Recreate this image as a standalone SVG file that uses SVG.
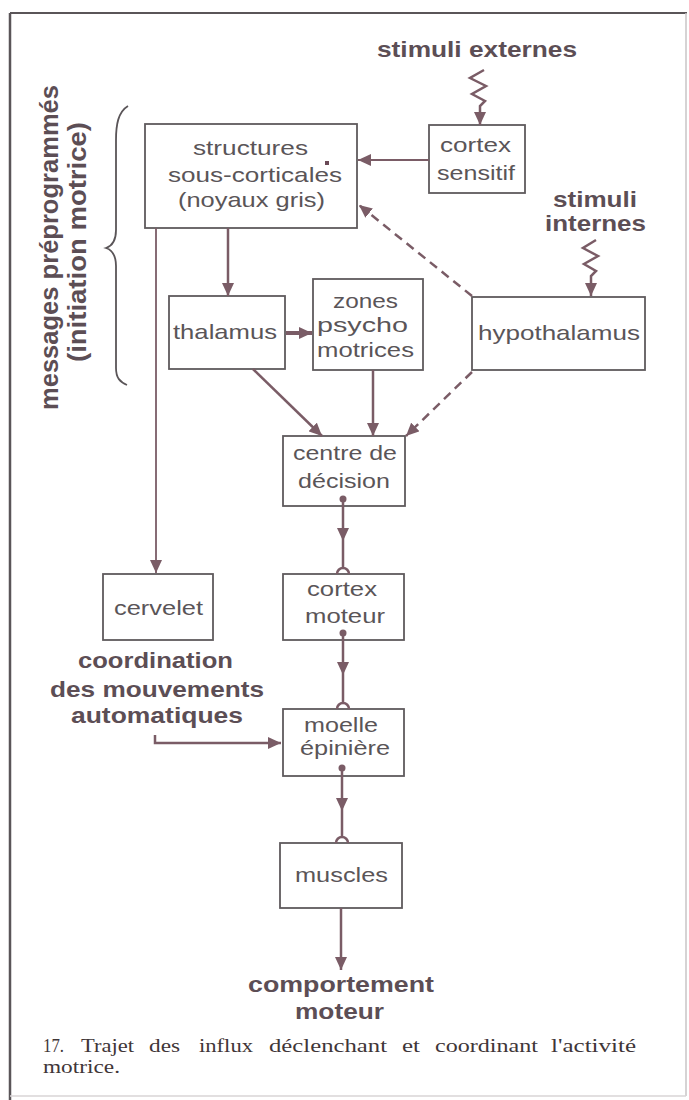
<svg xmlns="http://www.w3.org/2000/svg" width="689" height="1100" viewBox="0 0 689 1100">
<defs>
<style>
.box{fill:#fff;stroke:#5f5a5d;stroke-width:1.8}
.t{font-family:"Liberation Sans",Arial,sans-serif;font-size:21px;fill:#5a5558}
.b{font-family:"Liberation Sans",Arial,sans-serif;font-size:22px;font-weight:bold;fill:#5c4e55}
.rot{font-family:"Liberation Sans",Arial,sans-serif;font-size:25px;font-weight:bold;fill:#5c4e55}
.cap{font-family:"Liberation Serif","Times New Roman",serif;font-size:18px;fill:#3f3638}
.c{fill:none;stroke:#7a5c66;stroke-width:2.5}
.thin{stroke-width:1.8}
.d{stroke-dasharray:9 6}
.dot{fill:#7a5c66}
</style>
<marker id="ah" markerWidth="14" markerHeight="12" refX="13" refY="6" orient="auto" markerUnits="userSpaceOnUse"><path d="M0,0 L13,6 L0,12 z" fill="#7a5c66"/></marker>
</defs>
<rect width="689" height="1100" fill="#fff"/>
<g id="frame" fill="none">
<line x1="10" y1="13" x2="687" y2="13" stroke="#5a5558" stroke-width="2"/>
<line x1="10" y1="13" x2="10" y2="1100" stroke="#5a5558" stroke-width="2.5"/>
<line x1="686" y1="13" x2="686" y2="1096" stroke="#c8c4c6" stroke-width="1.5"/>
<line x1="10" y1="1096" x2="686" y2="1096" stroke="#d8d4d6" stroke-width="1.5"/>
</g>
<g id="bracket-label">
<path d="M128,106 C118,112 116,125 116,140 L116,230 C116,240 112,246 106,248 C112,250 116,256 116,266 L116,368 C116,378 120,382 127,385" fill="none" stroke="#5a5558" stroke-width="1.8"/>
<text class="rot" transform="translate(58,410) rotate(-90)" textLength="325" lengthAdjust="spacingAndGlyphs">messages préprogrammés</text>
<text class="rot" transform="translate(86,362) rotate(-90)" textLength="240" lengthAdjust="spacingAndGlyphs">(initiation motrice)</text>
</g>
<g id="stimuli-externes"><text class="b" x="377" y="57" textLength="200" lengthAdjust="spacingAndGlyphs">stimuli externes</text></g>
<g id="stimuli-internes"><text class="b" x="553" y="207" textLength="84" lengthAdjust="spacingAndGlyphs">stimuli</text><text class="b" x="545" y="231" textLength="101" lengthAdjust="spacingAndGlyphs">internes</text></g>
<g id="structures">
<rect class="box" x="145" y="124" width="212" height="104"/>
<text class="t" x="193" y="155" textLength="115" lengthAdjust="spacingAndGlyphs">structures</text>
<text class="t" x="168" y="182" textLength="174" lengthAdjust="spacingAndGlyphs">sous-corticales</text>
<text class="t" x="178" y="207" textLength="147" lengthAdjust="spacingAndGlyphs">(noyaux gris)</text>
<rect x="325" y="161" width="4" height="4" fill="#6a4a56"/>
</g>
<g id="cortex-sensitif">
<rect class="box" x="429" y="125" width="96" height="68"/>
<text class="t" x="440" y="152" textLength="71" lengthAdjust="spacingAndGlyphs">cortex</text>
<text class="t" x="437" y="180" textLength="78" lengthAdjust="spacingAndGlyphs">sensitif</text>
</g>
<g id="thalamus">
<rect class="box" x="169" y="296" width="116" height="73"/>
<text class="t" x="173" y="339" textLength="104" lengthAdjust="spacingAndGlyphs">thalamus</text>
</g>
<g id="zones">
<rect class="box" x="313" y="279" width="110" height="91"/>
<text class="t" x="333" y="308" textLength="65" lengthAdjust="spacingAndGlyphs">zones</text>
<text class="t" x="317" y="332" textLength="91" lengthAdjust="spacingAndGlyphs">psycho</text>
<text class="t" x="317" y="357" textLength="97" lengthAdjust="spacingAndGlyphs">motrices</text>
</g>
<g id="hypothalamus">
<rect class="box" x="472" y="297" width="173" height="73"/>
<text class="t" x="478" y="340" textLength="162" lengthAdjust="spacingAndGlyphs">hypothalamus</text>
</g>
<g id="centre">
<rect class="box" x="283" y="436" width="122" height="70"/>
<text class="t" x="293" y="460" textLength="104" lengthAdjust="spacingAndGlyphs">centre de</text>
<text class="t" x="298" y="488" textLength="92" lengthAdjust="spacingAndGlyphs">décision</text>
</g>
<g id="cervelet">
<rect class="box" x="103" y="574" width="110" height="66"/>
<text class="t" x="114" y="615" textLength="89" lengthAdjust="spacingAndGlyphs">cervelet</text>
</g>
<g id="cortex-moteur">
<rect class="box" x="283" y="574" width="121" height="66"/>
<text class="t" x="307" y="596" textLength="70" lengthAdjust="spacingAndGlyphs">cortex</text>
<text class="t" x="305" y="623" textLength="80" lengthAdjust="spacingAndGlyphs">moteur</text>
</g>
<g id="moelle">
<rect class="box" x="283" y="709" width="121" height="67"/>
<text class="t" x="304" y="732" textLength="74" lengthAdjust="spacingAndGlyphs">moelle</text>
<text class="t" x="300" y="755" textLength="90" lengthAdjust="spacingAndGlyphs">épinière</text>
</g>
<g id="muscles">
<rect class="box" x="280" y="843" width="122" height="65"/>
<text class="t" x="295" y="882" textLength="93" lengthAdjust="spacingAndGlyphs">muscles</text>
</g>
<g id="coordination">
<text class="b" x="78" y="668" textLength="155" lengthAdjust="spacingAndGlyphs">coordination</text>
<text class="b" x="50" y="697" textLength="214" lengthAdjust="spacingAndGlyphs">des mouvements</text>
<text class="b" x="71" y="723" textLength="172" lengthAdjust="spacingAndGlyphs">automatiques</text>
</g>
<g id="comportement">
<text class="b" x="248" y="992" textLength="186" lengthAdjust="spacingAndGlyphs">comportement</text>
<text class="b" x="295" y="1019" textLength="89" lengthAdjust="spacingAndGlyphs">moteur</text>
</g>
<g id="connectors">
<path class="c" d="M484,70 L470,78 L486,86 L472,94 L485,101 L480,106 L480,125" marker-end="url(#ah)"/>
<path class="c" d="M596,240 L583,248 L598,256 L584,264 L596,271 L591,276 L591,296" marker-end="url(#ah)"/>
<path class="c thin" d="M429,160 L358,160" marker-end="url(#ah)"/>
<path class="c d" d="M472,296 L359,205" marker-end="url(#ah)"/>
<path class="c" d="M228,228 L228,296" marker-end="url(#ah)"/>
<path class="c thin" d="M156,228 L156,573" marker-end="url(#ah)"/>
<path class="c" style="stroke-width:4" d="M286,333 L312,333" marker-end="url(#ah)"/>
<path class="c" d="M253,369 L322,436" marker-end="url(#ah)"/>
<path class="c" d="M373,370 L373,436" marker-end="url(#ah)"/>
<path class="c d" d="M472,372 L406,436" marker-end="url(#ah)"/>
<circle class="dot" cx="343" cy="499" r="3.5"/>
<path class="c" d="M343,499 L343,541" marker-end="url(#ah)"/>
<path class="c" d="M343,541 L343,568 M337,574 A6,6 0 0 1 349,574"/>
<circle class="dot" cx="343" cy="633" r="3.5"/>
<path class="c" d="M343,633 L343,675" marker-end="url(#ah)"/>
<path class="c" d="M343,675 L343,703 M337,709 A6,6 0 0 1 349,709"/>
<circle class="dot" cx="342" cy="768" r="3.5"/>
<path class="c" d="M342,768 L342,811" marker-end="url(#ah)"/>
<path class="c" d="M342,811 L342,837 M336,843 A6,6 0 0 1 348,843"/>
<path class="c" d="M341,908 L341,970" marker-end="url(#ah)"/>
<path class="c" d="M155,735 L155,743 L281,743" marker-end="url(#ah)"/>
</g>
<g id="caption">
<text class="cap" x="43" y="1052" textLength="21" lengthAdjust="spacingAndGlyphs">17.</text>
<text class="cap" x="81" y="1052" textLength="53" lengthAdjust="spacingAndGlyphs">Trajet</text>
<text class="cap" x="149" y="1052" textLength="31" lengthAdjust="spacingAndGlyphs">des</text>
<text class="cap" x="199" y="1052" textLength="54" lengthAdjust="spacingAndGlyphs">influx</text>
<text class="cap" x="269" y="1052" textLength="118" lengthAdjust="spacingAndGlyphs">déclenchant</text>
<text class="cap" x="402" y="1052" textLength="18" lengthAdjust="spacingAndGlyphs">et</text>
<text class="cap" x="435" y="1052" textLength="103" lengthAdjust="spacingAndGlyphs">coordinant</text>
<text class="cap" x="551" y="1052" textLength="85" lengthAdjust="spacingAndGlyphs">l'activité</text>
<text class="cap" x="43" y="1073" textLength="77" lengthAdjust="spacingAndGlyphs">motrice.</text>
</g>
</svg>
